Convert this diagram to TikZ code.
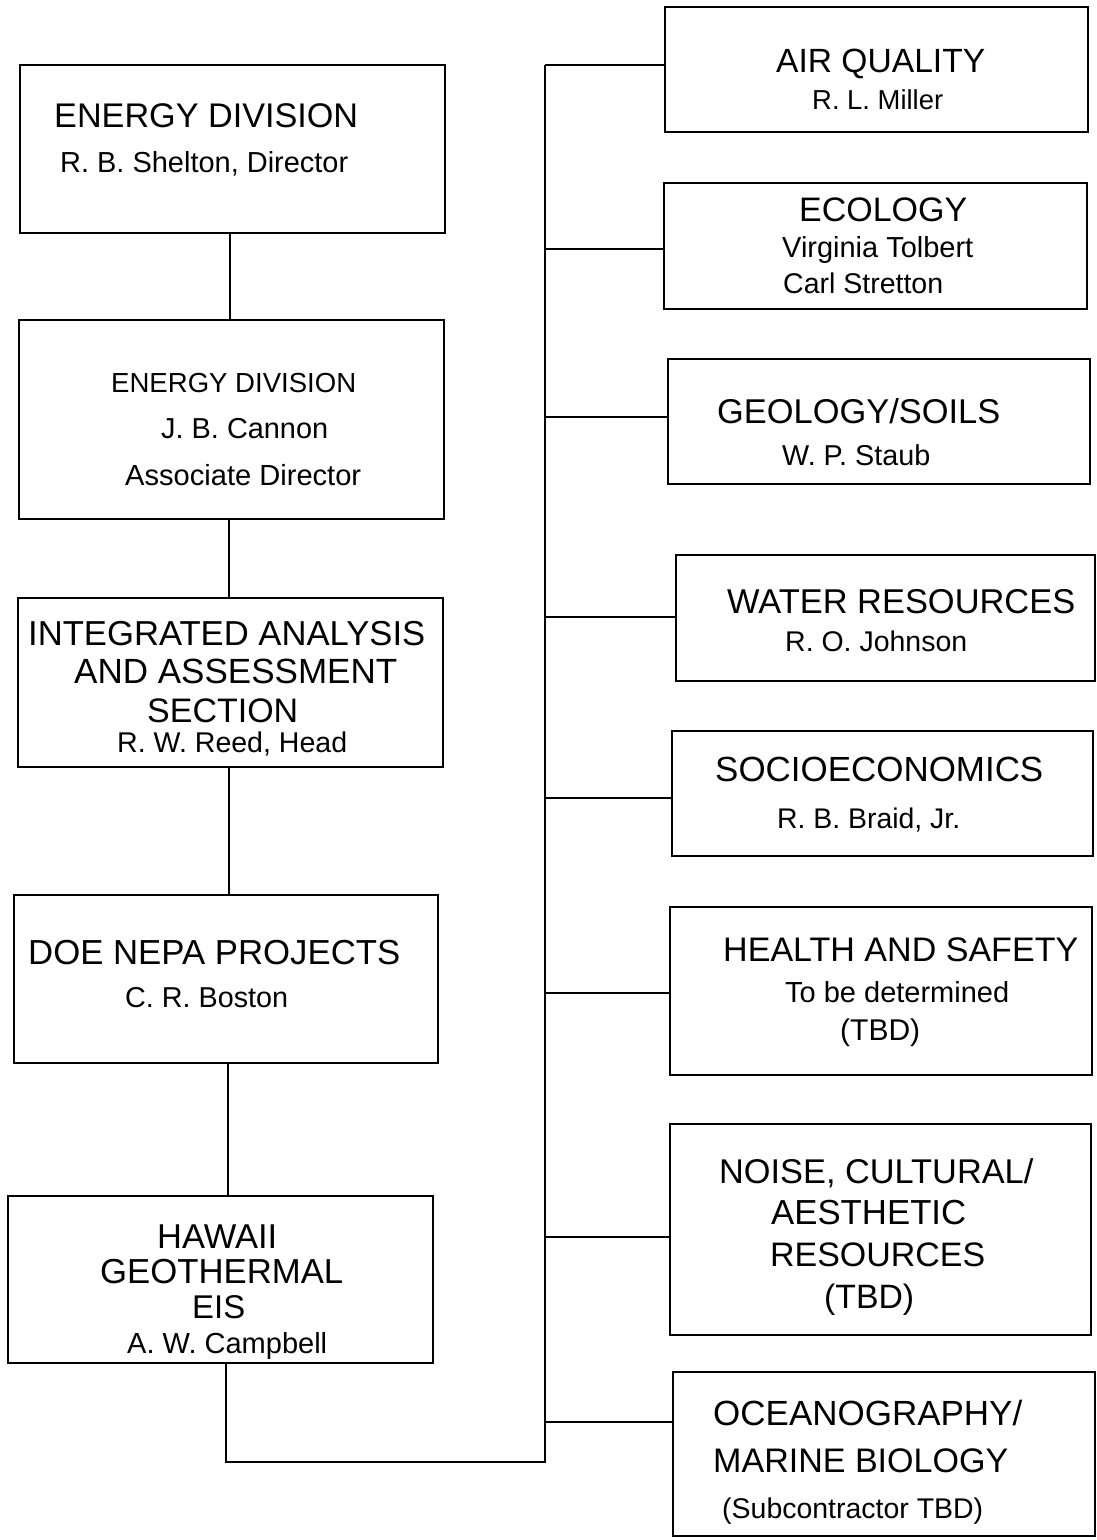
\documentclass[tikz,border=0pt]{standalone}
\usepackage{fontspec}
\setmainfont{Liberation Sans}
\usepackage{graphicx}
\usetikzlibrary{fit}
\newcommand\tline[5]{\node[tl] (#1) at (#2,#3) {\resizebox{#4pt}{!}{#5}};}
\newcommand\mkbox[5]{\node[boxst, fit={(#2,#3) (#4,#5)}] (#1) {};}
\tikzset{
  boxst/.style={draw=black, line width=1.4pt, inner sep=0pt, fill=none},
  tl/.style={anchor=base west, inner sep=0pt, text=black},
  conn/.style={draw=black, line width=1.3pt}
}
\begin{document}
\begin{tikzpicture}[x=1pt,y=-1pt]
\useasboundingbox[fill=white] (0,0) rectangle (1096,1540);
% left column boxes
\mkbox{L1}{20}{65}{445}{233}
\mkbox{L2}{19}{320}{444}{519}
\mkbox{L3}{18}{598}{443}{767}
\mkbox{L4}{14}{895}{438}{1063}
\mkbox{L5}{8}{1196}{433}{1363}
% right column boxes
\mkbox{R1}{665}{7}{1088}{132}
\mkbox{R2}{664}{183}{1087}{309}
\mkbox{R3}{668}{359}{1090}{484}
\mkbox{R4}{676}{555}{1095}{681}
\mkbox{R5}{672}{731}{1093}{856}
\mkbox{R6}{670}{907}{1092}{1075}
\mkbox{R7}{670}{1124}{1091}{1335}
\mkbox{R8}{673}{1372}{1095}{1536}
% texts left
\tline{t1a}{54}{127}{304}{ENERGY DIVISION}
\tline{t1b}{60}{172}{288}{R. B. Shelton, Director}
\tline{t2a}{111}{392}{245}{ENERGY DIVISION}
\tline{t2b}{161}{438}{167}{J. B. Cannon}
\tline{t2c}{125}{485}{236}{Associate Director}
\tline{t3a}{28}{645}{397}{INTEGRATED ANALYSIS}
\tline{t3b}{74}{683}{323}{AND ASSESSMENT}
\tline{t3c}{147}{722}{151}{SECTION}
\tline{t3d}{117}{752}{230}{R. W. Reed, Head}
\tline{t4a}{28}{964}{372}{DOE NEPA PROJECTS}
\tline{t4b}{125}{1007}{163}{C. R. Boston}
\tline{t5a}{157}{1248}{120}{HAWAII}
\tline{t5b}{100}{1283}{243}{GEOTHERMAL}
\tline{t5c}{192}{1318}{53}{EIS}
\tline{t5d}{127}{1353}{200}{A. W. Campbell}
% texts right
\tline{r1a}{776}{72}{209}{AIR QUALITY}
\tline{r1b}{812}{109}{131}{R. L. Miller}
\tline{r2a}{799}{221}{168}{ECOLOGY}
\tline{r2b}{782}{257}{191}{Virginia Tolbert}
\tline{r2c}{783}{293}{160}{Carl Stretton}
\tline{r3a}{717}{423}{283}{GEOLOGY/SOILS}
\tline{r3b}{782}{465}{148}{W. P. Staub}
\tline{r4a}{727}{613}{348}{WATER RESOURCES}
\tline{r4b}{785}{651}{182}{R. O. Johnson}
\tline{r5a}{715}{781}{328}{SOCIOECONOMICS}
\tline{r5b}{777}{828}{183}{R. B. Braid, Jr.}
\tline{r6a}{723}{961}{355}{HEALTH AND SAFETY}
\tline{r6b}{785}{1002}{224}{To be determined}
\tline{r6c}{840}{1040}{80}{(TBD)}
\tline{r7a}{719}{1183}{314}{NOISE, CULTURAL/}
\tline{r7b}{771}{1224}{195}{AESTHETIC}
\tline{r7c}{770}{1266}{215}{RESOURCES}
\tline{r7d}{824}{1308}{90}{(TBD)}
\tline{r8a}{713}{1425}{309}{OCEANOGRAPHY/}
\tline{r8b}{713}{1472}{295}{MARINE BIOLOGY}
\tline{r8c}{722}{1518}{261}{(Subcontractor TBD)}
% left connectors
\coordinate (x1) at (230,0);
\coordinate (x2) at (229,0);
\coordinate (x3) at (229,0);
\coordinate (x4) at (228,0);
\draw[conn] (L1.south -| x1) -- (L2.north -| x1);
\draw[conn] (L2.south -| x2) -- (L3.north -| x2);
\draw[conn] (L3.south -| x3) -- (L4.north -| x3);
\draw[conn] (L4.south -| x4) -- (L5.north -| x4);
% trunk
\coordinate (tt) at (545,65);
\coordinate (tb) at (545,1462);
\coordinate (hx) at (226,1462);
\draw[conn] (L5.south -| hx) -- (hx) -- (tb) -- (tt);
% branches
\draw[conn] (tt) -- (R1.west |- tt);
\draw[conn] (tt |- 0,249) -- (R2.west |- 0,249);
\draw[conn] (tt |- 0,417) -- (R3.west |- 0,417);
\draw[conn] (tt |- 0,617) -- (R4.west |- 0,617);
\draw[conn] (tt |- 0,798) -- (R5.west |- 0,798);
\draw[conn] (tt |- 0,993) -- (R6.west |- 0,993);
\draw[conn] (tt |- 0,1237) -- (R7.west |- 0,1237);
\draw[conn] (tt |- 0,1422) -- (R8.west |- 0,1422);
\end{tikzpicture}
\end{document}
